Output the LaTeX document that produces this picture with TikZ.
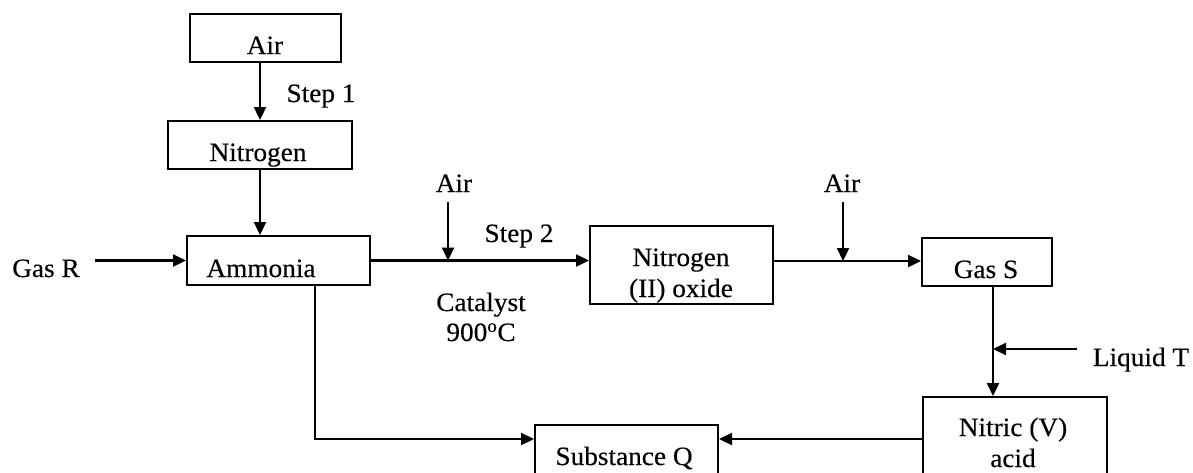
\documentclass[tikz,border=0pt]{standalone}
\usepackage{fontspec}
\setmainfont[FakeStretch=1.03,FakeBold=0.3]{Liberation Serif}
\usetikzlibrary{arrows.meta}
\begin{document}
\begin{tikzpicture}[x=1pt,y=-1pt,
  every node/.style={font=\fontsize{26.5}{31}\selectfont, inner sep=0pt},
  box/.style={draw, line width=2pt, rectangle, anchor=center},
  lbl/.style={anchor=base, align=center},
  arr/.style={line width=2.3pt, -{Triangle[length=13pt,width=12pt]}},
  ln/.style={line width=2.3pt}]
\useasboundingbox (0,0) rectangle (1193,472);
\clip (0,0) rectangle (1193,472);

% boxes
\node[box, minimum width=151pt, minimum height=48pt] (airTop) at (265.5,38) {};
\node[box, minimum width=184pt, minimum height=48pt] (nitrogen) at (260,145) {};
\node[box, minimum width=183pt, minimum height=49pt] (ammonia) at (278.5,260.5) {};
\node[box, minimum width=183pt, minimum height=78pt] (no) at (681.5,265) {};
\node[box, minimum width=130pt, minimum height=48pt] (gasS) at (987,262) {};
\node[box, minimum width=184pt, minimum height=100pt] (nitric) at (1015,447) {};
\node[box, minimum width=183pt, minimum height=80pt] (subQ) at (626.5,465) {};

% texts
\node[lbl] (tAir) at (265,54) {Air};
\node[lbl] (tStep1) at (321,102) {Step 1};
\node[lbl] (tNitrogen) at (258,161) {Nitrogen};
\node[lbl] (gasR) at (46,277) {Gas R};
\node[lbl] (tAmmonia) at (261,277) {Ammonia};
\node[lbl] (air2) at (454,192) {Air};
\node[lbl] (tStep2) at (519,242) {Step 2};
\node[lbl] (tCat) at (481,311) {Catalyst};
\node[lbl] (tTemp) at (481,341) {900\textsuperscript{o}C};
\node[lbl] (tNO1) at (681,266) {Nitrogen};
\node[lbl] (tNO2) at (681,297) {(II) oxide};
\node[lbl] (air3) at (842,192) {Air};
\node[lbl] (tGasS) at (986,278) {Gas S};
\node[lbl] (liqT) at (1141,366) {Liquid T};
\node[lbl] (tNit1) at (1013,436) {Nitric (V)};
\node[lbl] (tNit2) at (1013,467) {acid};
\node[lbl] (tQ) at (624,465) {Substance Q};

% coordinates
\coordinate (j1) at (448,260.5);
\coordinate (j2) at (843,261);
\coordinate (j3) at (993,349);
\coordinate (lt) at (1077,349);

% connectors
\draw[arr] (airTop.south -| nitrogen.north) -- (nitrogen.north);
\draw[arr] (nitrogen.south) -- (nitrogen.south |- ammonia.north);
\draw[arr] ([xshift=15pt]gasR.east |- ammonia.west) -- (ammonia.west);
\draw[arr] (ammonia.east) -- (ammonia.east -| no.west);
\draw[arr] (j1 |- 0,202) -- (j1);
\draw[arr] (no.east |- j2) -- (j2 -| gasS.west);
\draw[arr] (j2 |- 0,202) -- (j2);
\draw[arr] (gasS.south -| j3) -- (nitric.north -| j3);
\draw[arr] (lt) -- (j3);
\draw[arr] (ammonia.south -| 315,0) |- ([yshift=-15pt]subQ.north west);
\draw[arr] ([yshift=-43pt]nitric.north west) -- ([yshift=-15pt]subQ.north east);
\end{tikzpicture}
\end{document}
